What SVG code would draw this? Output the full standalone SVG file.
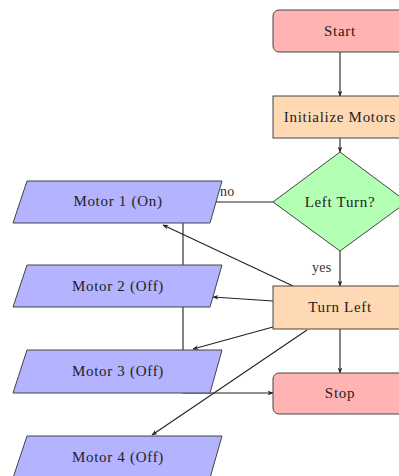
<svg xmlns="http://www.w3.org/2000/svg" width="399" height="476" viewBox="0 0 399 476">
  <style>
    .lbl { font-family: "Liberation Serif", "DejaVu Serif", serif; font-size: 15px; letter-spacing: 0.7px; fill: #222; text-anchor: middle; dominant-baseline: central; }
    .edge { font-family: "Liberation Serif", "DejaVu Serif", serif; font-size: 14px; letter-spacing: 0.3px; fill: #333; }
    .box { stroke: #444; stroke-width: 1; }
    .term { fill: #ffb3b3; }
    .proc { fill: #ffd9b3; }
    .dec { fill: #b3ffb3; }
    .io { fill: #b3b3ff; }
    .conn { fill: none; stroke: #222; stroke-width: 1.1; }
  </style>
  <defs>
    <marker id="arr" viewBox="0 0 10 10" refX="9" refY="5" markerWidth="6" markerHeight="6" orient="auto" markerUnits="userSpaceOnUse">
      <path d="M0,1 L10,5 L0,9 L3,5 Z" fill="#222"/>
    </marker>
  </defs>
  <rect width="399" height="476" fill="#fff"/>

  <!-- connectors (drawn first so node fills sit on top) -->
  <g id="connectors">
    <path class="conn" d="M340,52 L340,96" marker-end="url(#arr)"/>
    <path class="conn" d="M340,138 L340,152" marker-end="url(#arr)"/>
    <path class="conn" d="M273,202 L215,202"/>
    <path class="conn" d="M340,250 L340,286" marker-end="url(#arr)"/>
    <path class="conn" d="M340,329 L340,373" marker-end="url(#arr)"/>
    <path class="conn" d="M293,286 L163,225" marker-end="url(#arr)"/>
    <path class="conn" d="M273,301 L213,297" marker-end="url(#arr)"/>
    <path class="conn" d="M273,327 L193,349" marker-end="url(#arr)"/>
    <path class="conn" d="M307,330 L152,435" marker-end="url(#arr)"/>
    <path class="conn" d="M183,223 L183,393 L273,393" marker-end="url(#arr)"/>
    <text class="edge" x="220" y="196">no</text>
    <text class="edge" x="312" y="272">yes</text>
  </g>

  <g id="start">
    <rect class="box term" x="273" y="10" width="134" height="42" rx="6"/>
    <text class="lbl" x="340" y="31">Start</text>
  </g>
  <g id="init">
    <rect class="box proc" x="273" y="96" width="134" height="42"/>
    <text class="lbl" x="340" y="117">Initialize Motors</text>
  </g>
  <g id="decision">
    <polygon class="box dec" points="340,152 407,202 340,251 273,202"/>
    <text class="lbl" x="340" y="202">Left Turn?</text>
  </g>
  <g id="turnleft">
    <rect class="box proc" x="273" y="286" width="134" height="43"/>
    <text class="lbl" x="340" y="307">Turn Left</text>
  </g>
  <g id="stop">
    <rect class="box term" x="273" y="373" width="134" height="41" rx="6"/>
    <text class="lbl" x="340" y="393">Stop</text>
  </g>
  <g id="motor1">
    <polygon class="box io" points="27,181 222,181 210,223 13,223"/>
    <text class="lbl" x="118" y="201">Motor 1 (On)</text>
  </g>
  <g id="motor2">
    <polygon class="box io" points="27,265 222,265 210,307 13,307"/>
    <text class="lbl" x="118" y="286">Motor 2 (Off)</text>
  </g>
  <g id="motor3">
    <polygon class="box io" points="27,350 222,350 210,393 13,393"/>
    <text class="lbl" x="118" y="371">Motor 3 (Off)</text>
  </g>
  <g id="motor4">
    <polygon class="box io" points="27,436 222,436 210,478 13,478"/>
    <text class="lbl" x="118" y="457">Motor 4 (Off)</text>
  </g>
</svg>
